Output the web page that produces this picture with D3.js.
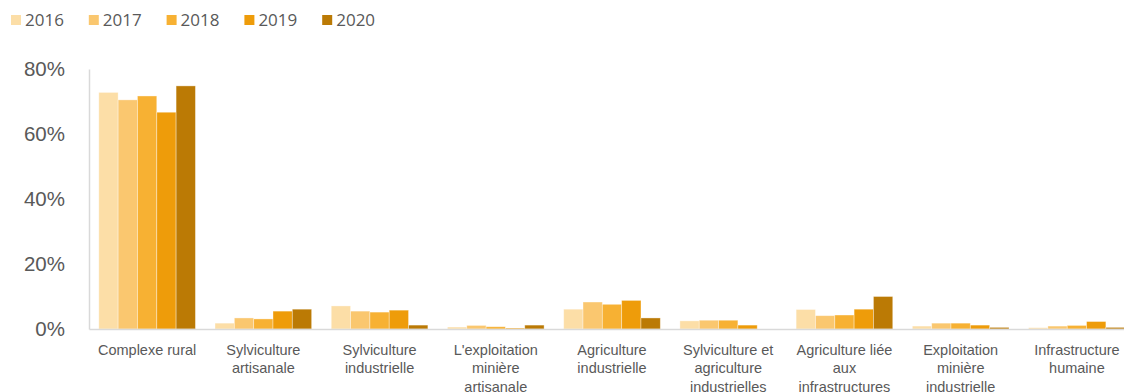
<!DOCTYPE html>
<html>
<head>
<meta charset="utf-8">
<script src="https://cdn.jsdelivr.net/npm/d3@7"></script>
<style>
  html, body { margin: 0; padding: 0; background: #fff; }
  svg { display: block; font-family: "Open Sans", "Noto Sans", sans-serif; }
</style>
</head>
<body>
<svg id="chart" width="1124" height="392"></svg>
<script>
// ---- data ----
const categories = [
  "Complexe rural",
  "Sylviculture artisanale",
  "Sylviculture industrielle",
  "L'exploitation minière artisanale",
  "Agriculture industrielle",
  "Sylviculture et agriculture industrielles",
  "Agriculture liée aux infrastructures",
  "Exploitation minière industrielle",
  "Infrastructure humaine"
];
const categoryLines = [
  ["Complexe rural"],
  ["Sylviculture", "artisanale"],
  ["Sylviculture", "industrielle"],
  ["L'exploitation", "minière", "artisanale"],
  ["Agriculture", "industrielle"],
  ["Sylviculture et", "agriculture", "industrielles"],
  ["Agriculture liée", "aux", "infrastructures"],
  ["Exploitation", "minière", "industrielle"],
  ["Infrastructure", "humaine"]
];
const years = ["2016", "2017", "2018", "2019", "2020"];
const v2016 = [72.8, 1.8, 7.1, 0.6, 6.1, 2.5, 6.0, 0.9, 0.4];
const v2017 = [70.5, 3.4, 5.5, 1.1, 8.3, 2.7, 4.1, 1.8, 0.9];
const v2018 = [71.7, 3.1, 5.2, 0.7, 7.6, 2.7, 4.3, 1.8, 1.1];
const v2019 = [66.7, 5.5, 5.8, 0.3, 8.8, 1.2, 6.1, 1.2, 2.3];
const v2020 = [74.8, 6.1, 1.2, 1.2, 3.4, 0.0, 10.0, 0.5, 0.5];
const seriesValues = [v2016, v2017, v2018, v2019, v2020];
const yTicks = [0, 20, 40, 60, 80];
const colors = ["#FCDEA7", "#FAC76F", "#F7B133", "#EE9C0A", "#BB7A05"];

// ---- layout ----
const svg = d3.select("#chart");
const baseY = 329, topY = 69;
const x0 = d3.scaleBand().domain(categories).range([89, 1135]).padding(0);
const gap = 9.8;
const x1 = d3.scaleBand().domain(years).range([gap, x0.bandwidth() - gap]).padding(0);
const y = d3.scaleLinear().domain([0, 80]).range([baseY, topY]);
const color = d3.scaleOrdinal().domain(years).range(colors);
const textColor = "#595959";

// bars
const groups = svg.append("g").selectAll("g")
  .data(categories)
  .join("g")
  .attr("transform", d => `translate(${x0(d)},0)`);

groups.selectAll("rect")
  .data((d, i) => years.map((yr, j) => ({ yr, v: seriesValues[j][i] })))
  .join("rect")
  .attr("x", d => x1(d.yr))
  .attr("width", x1.bandwidth())
  .attr("y", d => y(d.v))
  .attr("height", d => baseY - y(d.v))
  .attr("fill", d => color(d.yr))
  .attr("stroke", "#fff")
  .attr("stroke-opacity", 0.45)
  .attr("stroke-width", 0.8);

// y axis
const yAxis = d3.axisLeft(y).tickValues(yTicks).tickFormat(d => d + "%").tickSize(0).tickPadding(24);
const gy = svg.append("g").attr("transform", "translate(89,0)").call(yAxis);
gy.select(".domain").attr("stroke", "#d9d9d9").attr("stroke-width", 1.5);
gy.selectAll("text")
  .attr("fill", textColor)
  .attr("font-size", 20.5)
  .attr("dx", 0);

// x axis baseline
const xAxis = d3.axisBottom(x0).tickSize(0).tickFormat("");
const gx = svg.append("g").attr("transform", `translate(0,${baseY})`).call(xAxis);
gx.select(".domain").attr("stroke", "#d9d9d9").attr("stroke-width", 1.5);

// category labels (multi-line)
gx.selectAll(".tick").each(function (d) {
  const i = categories.indexOf(d);
  const t = d3.select(this).append("text")
    .attr("fill", textColor)
    .attr("font-size", 14.5)
    .attr("text-anchor", "middle")
    .attr("y", 25.5);
  categoryLines[i].forEach((line, k) => {
    t.append("tspan").attr("x", 0).attr("dy", k === 0 ? 0 : 18.5).text(line);
  });
});

// legend
const legend = svg.append("g");
const lg = legend.selectAll("g").data(years).join("g")
  .attr("transform", (d, i) => `translate(${11 + i * 77.8},15)`);
lg.append("rect").attr("width", 10).attr("height", 10).attr("fill", d => color(d));
lg.append("text").attr("x", 14).attr("y", 10.5)
  .attr("font-size", 17).attr("fill", textColor).text(d => d);
</script>
</body>
</html>
